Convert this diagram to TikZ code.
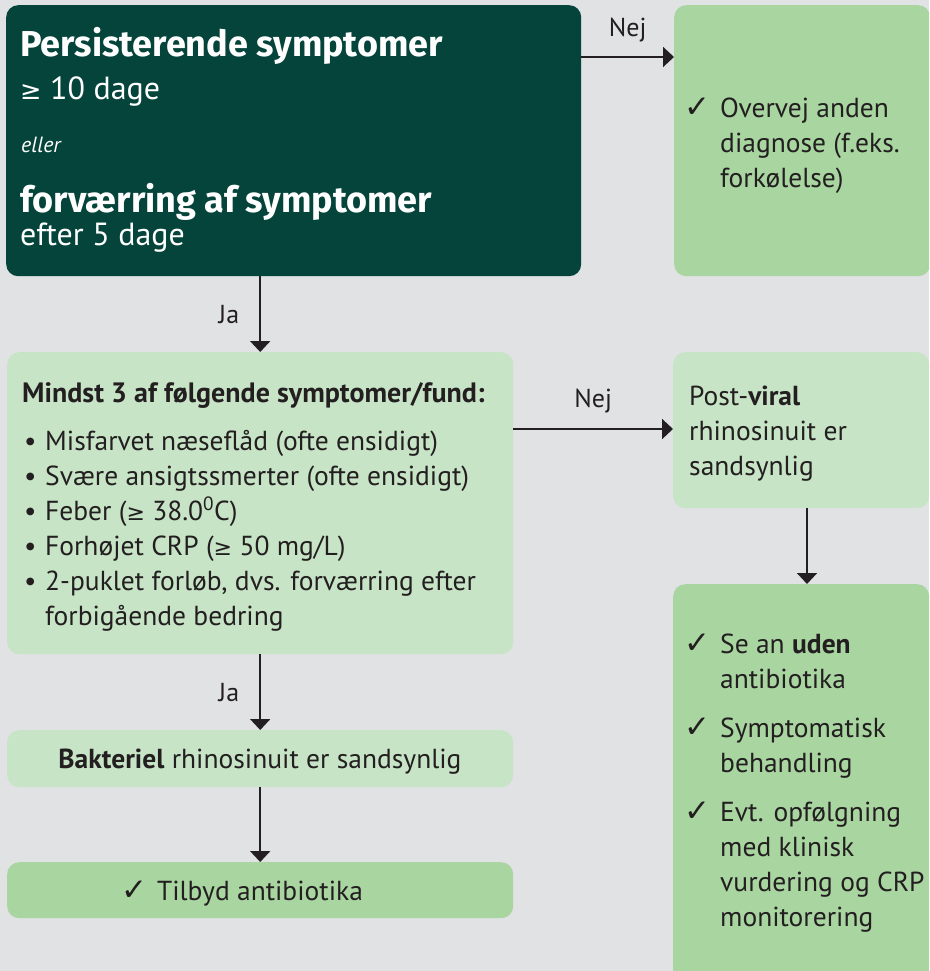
\documentclass[tikz,border=0pt]{standalone}
\usepackage{fontspec}
\setmainfont{PT Sans}
\newfontfamily\headfont{Fira Sans}
\newfontfamily\symfont{DejaVu Sans}
\usetikzlibrary{arrows.meta}
\definecolor{bgGray}{HTML}{E1E2E4}
\definecolor{darkGreen}{HTML}{05443A}
\definecolor{midGreen}{HTML}{A9D5A1}
\definecolor{paleGreen}{HTML}{C7E4C6}
\definecolor{inkDark}{HTML}{231F20}
\newcommand{\chk}{{\symfont\fontsize{31}{31}\selectfont ✓}}
\newcommand{\gte}{{\symfont\fontsize{0.8em}{1em}\selectfont ≥}}
\tikzset{
  box/.style={rounded corners=12pt,anchor=north west,inner sep=0pt},
  darkbox/.style={box,fill=darkGreen},
  palebox/.style={box,fill=paleGreen},
  midbox/.style={box,fill=midGreen},
  txt/.style={anchor=base west,inner sep=0pt,text=inkDark,font=\fontsize{27.5}{35}\selectfont},
  wtxt/.style={anchor=base west,inner sep=0pt,text=white},
  lbl/.style={inner sep=0pt,text=inkDark,font=\fontsize{26}{28}\selectfont},
  arr/.style={draw=inkDark,line width=2pt,-{Triangle[width=20pt,length=11pt]}}
}
\begin{document}
\begin{tikzpicture}[x=1pt,y=-1pt]
  \clip (0,0) rectangle (929,971);
  \fill[bgGray] (0,0) rectangle (929,971);

  % boxes
  \node[darkbox,minimum width=575pt,minimum height=271pt] (sym) at (6,5) {};
  \node[midbox,minimum width=256pt,minimum height=271pt] (alt) at (674,5) {};
  \node[palebox,minimum width=506pt,minimum height=302pt] (crit) at (7,352) {};
  \node[palebox,minimum width=256pt,minimum height=156pt] (viral) at (673,352) {};
  \node[midbox,minimum width=256pt,minimum height=420pt] (rec) at (673,584) {};
  \node[palebox,minimum width=506pt,minimum height=57pt] (bact) at (7,730) {};
  \node[midbox,minimum width=506pt,minimum height=56pt] (abx) at (7,862) {};

  % text in the dark box
  \node[wtxt,font=\headfont\bfseries\fontsize{36}{40}\selectfont] (t1) at (20,57) {Persisterende symptomer};
  \node[wtxt,font=\fontsize{32}{36}\selectfont] (t2) at (20,100) {\gte\ 10 dage};
  \node[wtxt,font=\itshape\fontsize{22}{26}\selectfont] (t3) at (21,153) {eller};
  \node[wtxt,font=\headfont\bfseries\fontsize{36}{40}\selectfont] (t4) at (20,212) {forværring af symptomer};
  \node[wtxt,font=\fontsize{32}{36}\selectfont] (t5) at (20,245) {efter 5 dage};

  % criteria (base = last line)
  \node[txt,font=\bfseries\fontsize{28}{35}\selectfont] (c0) at (22,402) {Mindst 3 af følgende symptomer/fund:};
  \node[txt,align=left] (c1) at (24,625) {%
    \makebox[21pt][l]{•}Misfarvet næseflåd (ofte ensidigt)\\
    \makebox[21pt][l]{•}Svære ansigtssmerter (ofte ensidigt)\\
    \makebox[21pt][l]{•}Feber (\gte\ 38.0\textsuperscript{0}C)\\
    \makebox[21pt][l]{•}Forhøjet CRP (\gte\ 50 mg/L)\\
    \makebox[21pt][l]{•}2-puklet forløb, dvs. forværring efter\\
    \hspace*{21pt}forbigående bedring};

  \node[txt,align=left] (a1) at (684,187) {%
    \makebox[36pt][l]{\chk}Overvej anden\\
    \hspace*{36pt}diagnose (f.eks.\\
    \hspace*{36pt}forkølelse)};

  \node[txt,align=left] (v1) at (689,475) {%
    Post-\textbf{viral}\\ rhinosinuit er\\ sandsynlig};

  \node[txt,align=left] (r1) at (684,926) {%
    \makebox[36pt][l]{\chk}Se an \textbf{uden}\\
    \hspace*{36pt}antibiotika\\[14pt]
    \makebox[36pt][l]{\chk}Symptomatisk\\
    \hspace*{36pt}behandling\\[14pt]
    \makebox[36pt][l]{\chk}Evt. opfølgning\\
    \hspace*{36pt}med klinisk\\
    \hspace*{36pt}vurdering og CRP\\
    \hspace*{36pt}monitorering};

  \node[txt,anchor=base] (b1) at (260,768) {\textbf{Bakteriel} rhinosinuit er sandsynlig};
  \node[txt,anchor=base] (ab1) at (242,900) {\makebox[36pt][l]{\chk}Tilbyd antibiotika};

  % connectors
  \coordinate (y1) at (0,57);
  \coordinate (y2) at (0,429);
  \coordinate (x3) at (807,0);
  \draw[arr] (sym.east |- y1) -- (alt.west |- y1) node[lbl,midway,above=14pt] (nej1) {Nej};
  \draw[arr] (sym.south -| crit.north) -- (crit.north) node[lbl,midway,left=20pt] (ja1) {Ja};
  \draw[arr] (crit.east |- y2) -- (viral.west |- y2) node[lbl,midway,above=15pt] (nej2) {Nej};
  \draw[arr] (viral.south -| x3) -- (rec.north -| x3);
  \draw[arr] (crit.south) -- (bact.north) node[lbl,midway,left=20pt] (ja2) {Ja};
  \draw[arr] (bact.south) -- (abx.north);
\end{tikzpicture}
\end{document}
